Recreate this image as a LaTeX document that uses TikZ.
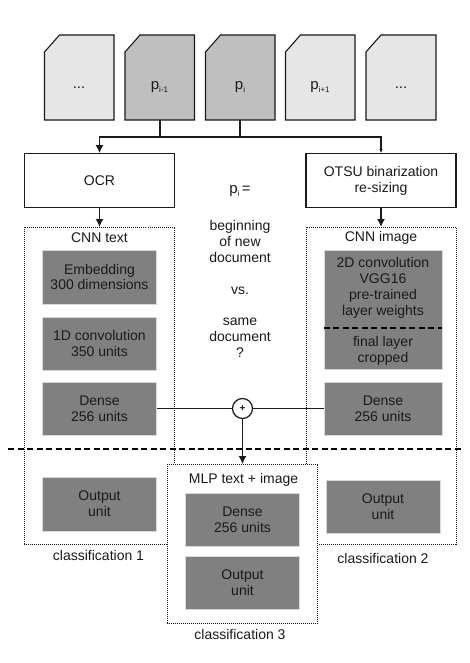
\documentclass[tikz,border=0pt]{standalone}
\usepackage{fontspec}
\setmainfont{Liberation Sans}
\usetikzlibrary{arrows.meta}
\definecolor{lite}{HTML}{E6E6E6}
\definecolor{midg}{HTML}{BFBFBF}
\definecolor{dark}{HTML}{808080}
\definecolor{ink}{HTML}{1A1A1A}
\tikzset{
  px/.style={x=1pt,y=-1pt},
  pagebox/.style={draw=ink,line width=1.1pt,line join=miter},
  solidbox/.style={draw=ink,line width=1.3pt,fill=white,minimum width=150pt,minimum height=53.5pt,inner sep=0pt,align=center,font=\fontsize{14}{15.8}\selectfont,text=ink},
  graybox/.style={draw=black!15,line width=0.5pt,fill=dark,minimum width=114pt,minimum height=53.5pt,inner sep=0pt,align=center,font=\fontsize{14}{15.8}\selectfont,text=ink},
  dotbox/.style={draw=ink,line width=0.8pt,dash pattern=on 1pt off 1pt,fill=white},
  lab/.style={inner sep=0pt,align=center,font=\fontsize{14}{15.8}\selectfont,text=ink},
  pagetxt/.style={inner sep=0pt,font=\fontsize{15}{15}\selectfont,text=ink},
  conn/.style={draw=ink,line width=1.3pt},
  arr/.style={conn,-{Latex[length=8pt,width=8pt]}},
  arrsmall/.style={conn,-{Latex[length=4pt,width=3.5pt]}},
  sepline/.style={draw=black,line width=2pt,dash pattern=on 6pt off 3.5pt}
}
\newcommand{\pagepoly}[3]{\draw[pagebox,fill=#3] (#1,120) -- (#1,52) -- (#1+15,35) -- (#2,35) -- (#2,120) -- cycle;}
\newcommand{\subs}[1]{\raisebox{-3pt}{\fontsize{8}{8}\selectfont #1}}
\begin{document}
\begin{tikzpicture}[px]
\useasboundingbox (0,0) rectangle (469,663);
% pages
\pagepoly{44.5}{114}{lite}
\pagepoly{125}{194.5}{midg}
\pagepoly{205.5}{275}{midg}
\pagepoly{285.5}{355}{lite}
\pagepoly{366}{436}{lite}
\node[pagetxt] (p1) at (79,88) {...};
\node[pagetxt] (p2) at (159.5,87) {p\subs{i-1}};
\node[pagetxt] (p3) at (240,87) {p\subs{i}};
\node[pagetxt] (p4) at (320,87) {p\subs{i+1}};
\node[pagetxt] (p5) at (401,88) {...};
\coordinate (pim) at (160,120);
\coordinate (pic) at (240,120);
\coordinate (jm) at (160,137);
\coordinate (jc) at (240,137);
% top boxes
\node[solidbox] (ocr) at (99.5,180.5) {OCR};
\node[solidbox] (otsu) at (381,180.5) {OTSU binarization\\re-sizing};
\draw[conn] (pim) -- (jm);
\draw[conn] (pic) -- (jc);
\draw[arr] (jm) -| (ocr.north);
\draw[conn] (jm) -- (jc);
\draw[arrsmall] (jc) -| (otsu.north);
% dotted frames
\draw[dotbox] (24.5,227) rectangle (174.5,544);
\draw[dotbox] (306,227) rectangle (456,544);
\coordinate (cnnt) at (99.5,227);
\coordinate (cnni) at (381,227);
\draw[arr] (ocr.south) -- (cnnt);
\draw[arr] (otsu.south) -- (cnni);
\node[lab] (ct) at (99.5,238) {CNN text};
\node[lab] (ci) at (381,238) {CNN image};
% left column
\node[graybox] (emb) at (99.5,277) {Embedding\\300 dimensions};
\node[graybox] (conv) at (99.5,343.5) {1D convolution\\350 units};
\node[graybox] (dl) at (99.5,408.5) {Dense\\256 units};
\node[graybox] (ol) at (99.5,504) {Output\\unit};
% right column
\node[graybox,minimum height=119pt,minimum width=118pt] (vgg) at (383,309.5) {};
\node[lab] (vggt) at (383,288) {2D convolution\\VGG16\\pre-trained\\layer weights};
\node[lab] (crop) at (383,351) {final layer\\cropped};
\draw[sepline] (vgg.west |- 0,328) -- (vgg.east |- 0,328);
\node[graybox,minimum width=118pt] (dr) at (383,408.5) {Dense\\256 units};
\node[graybox] (or) at (383,506.5) {Output\\unit};
% center text
\node[lab,font=\fontsize{15}{16}\selectfont] (q1) at (240,191.5) {p\subs{i}\,=};
\node[lab] (q2) at (240,241.5) {beginning\\of new\\document};
\node[lab] (q3) at (240,291) {vs.};
\node[lab] (q4) at (240,338) {same\\document\\?};
% merge
\node[circle,draw=ink,line width=1.2pt,fill=white,minimum size=20pt,inner sep=0pt,font=\fontsize{10}{10}\selectfont\bfseries,text=ink] (plus) at (242.5,408.5) {+};
\draw[conn] (dl.east) -- (plus);
\draw[conn] (dr.west) -- (plus);
% MLP frame
\draw[dotbox] (167.5,464) rectangle (317.5,623);
\coordinate (mlptop) at (242.5,464);
\draw[sepline] (8,448.7) -- (463,448.7);
\draw[arr] (plus.south) -- (mlptop);
\node[lab] (mt) at (243.5,480) {MLP text + image};
\node[graybox] (dm) at (242.5,519.5) {Dense\\256 units};
\node[graybox] (om) at (242.5,582.5) {Output\\unit};
% captions
\node[lab] (c1) at (98.5,555) {classification 1};
\node[lab] (c2) at (383,558) {classification 2};
\node[lab] (c3) at (240,634) {classification 3};
\end{tikzpicture}
\end{document}
